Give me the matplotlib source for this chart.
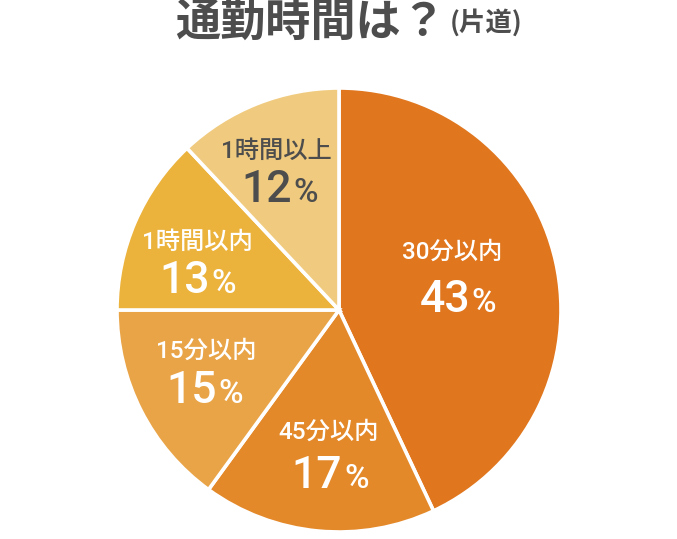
import matplotlib
matplotlib.use('Agg')
import matplotlib.pyplot as plt

plt.rcParams['font.family'] = ['Noto Sans CJK JP', 'DejaVu Sans']

categories = ['30分以内', '45分以内', '15分以内', '1時間以内', '1時間以上']
shares = [43, 17, 15, 13, 12]
colors = ['#E0761E', '#E4892A', '#E9A447', '#EBB23C', '#F0CB7F']
text_colors = ['white', 'white', 'white', 'white', '#4D4D4D']
# label x, label y, number split x, number baseline y (pie data units)
label_pos = [(0.51, 0.26, 0.595, -0.01),
             (-0.045, -0.55, 0.02, -0.80),
             (-0.60, -0.185, -0.545, -0.42),
             (-0.64, 0.306, -0.577, 0.077),
             (-0.284, 0.716, -0.207, 0.486)]

num_font = ['Roboto', 'Noto Sans CJK JP']

W, H = 677, 539
fig = plt.figure(figsize=(W / 100, H / 100), dpi=100)
cx, cy, r = 339, 310, 222
ax = fig.add_axes([(cx - r) / W, (H - cy - r) / H, 2 * r / W, 2 * r / H])
ax.pie(shares, colors=colors, startangle=90, counterclock=False, radius=1,
       wedgeprops=dict(edgecolor='white', linewidth=2.6))
ax.set_xlim(-1, 1)
ax.set_ylim(-1, 1)
ax.set_aspect('equal')
ax.axis('off')

for cat, val, tc, (x, yl, xs, yn) in zip(categories, shares, text_colors, label_pos):
    ax.text(x, yl, cat, ha='center', va='center', fontsize=17.5, color=tc,
            family=num_font, fontweight='medium')
    # number big, percent sign small
    ax.text(xs - 0.005, yn, str(val), ha='right', va='baseline', fontsize=32,
            color=tc, family=num_font, fontweight='medium')
    ax.text(xs + 0.003, yn, '%', ha='left', va='baseline', fontsize=24,
            color=tc, family=num_font, fontweight='medium')

fig.text(446 / W, 1 - 23 / H, '通勤時間は？', ha='right', va='center',
         fontsize=32.5, fontweight='bold', color='#4D4D4D')
fig.text(450 / W, 1 - 23 / H, '(片道)', ha='left', va='center',
         fontsize=19, fontweight='bold', color='#4D4D4D')

fig.savefig('out.png', dpi=100)
